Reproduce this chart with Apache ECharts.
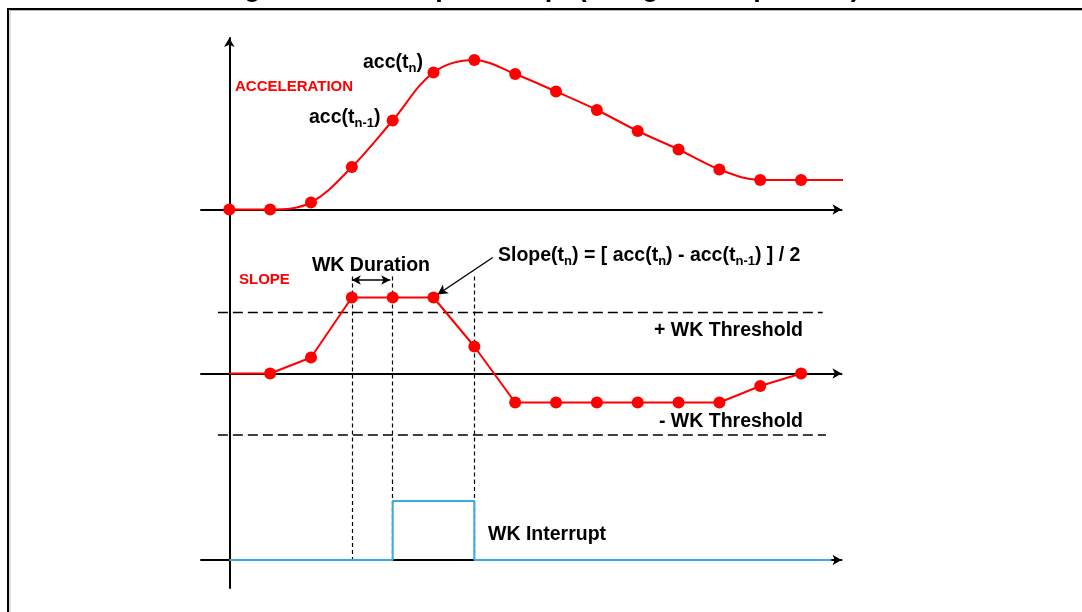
<!DOCTYPE html>
<html><head><meta charset="utf-8">
<script src="https://cdn.jsdelivr.net/npm/echarts@6/dist/echarts.min.js"></script>
<style>html,body{margin:0;padding:0;background:#fff}#c{width:1082px;height:612px}</style>
</head><body><div id="c"></div>
<script>
// ---- data ----
const sampleIndex = [0, 1, 2, 3, 4, 5, 6, 7, 8, 9, 10, 11, 12, 13, 14];
const accelerationValues = [0, 0, 7, 42.5, 89, 137, 149.5, 135.5, 118, 99.5, 78.5, 60, 40, 29.5, 29.5];
const accelerationTail = [15.07, 29.5];          // signal continues past the last sample
const slopeValues = [0, 0, 16, 76, 76, 76, 27, -29, -29, -29, -29, -29, -29, -12.5, 0];
const slopeMarkerFrom = 1;                        // first sample has no marker
const wkThresholds = [61, -61.5];
const thresholdSpans = [[-0.28, 14.53], [-0.28, 14.61]];
const interruptX = [0, 4, 6, 14.74];
const interruptLevel = [0, 1, 0, 0];
const guideIndex = [3, 4, 6];
const wkDurationSpan = [3.0, 3.94];
const wkDurationLevel = 93.5;
const slopePointer = [[6.45, 116], [5.1, 79]];

// ---- layout ----
const FONT = '"Liberation Sans", Arial, Helvetica, sans-serif';
const XMIN = -0.693, XMAX = 14.99;
const GL = 201, GW = 640.5;
const RED = '#ff0000', BLUE = '#38ace2';

function xAxisFor(idx, showLine) {
  return {
    type: 'value', gridIndex: idx, min: XMIN, max: XMAX,
    axisLine: { show: showLine, onZero: true, symbol: ['none', 'arrow'], symbolSize: [8, 9],
      lineStyle: { color: '#000', width: 2 } },
    axisTick: { show: false }, axisLabel: { show: false }, splitLine: { show: false }
  };
}
function yAxisFor(idx, min, max) {
  return { type: 'value', gridIndex: idx, min: min, max: max, show: false,
    axisLine: { show: false }, splitLine: { show: false } };
}

const accData = sampleIndex.map((x, i) => [x, accelerationValues[i]]);
accData.push({ value: accelerationTail, symbol: 'none' });
const slopeData = sampleIndex.map((x, i) => i < slopeMarkerFrom
  ? { value: [x, slopeValues[i]], symbol: 'none' } : [x, slopeValues[i]]);
const interruptData = interruptX.map((x, i) => [x, interruptLevel[i]]);

const guideStyle = { type: [4, 3], color: '#000', width: 1.2 };
const guidesSlope = guideIndex.map(g => [{ coord: [g, 97] }, { coord: [g, -106.5] }]);
const guidesInt = guideIndex.map(g => [{ coord: [g, 1.356] }, { coord: [g, -0.034] }]);

const subRich = {
  m: { fontSize: 19.5, fontWeight: 'bold', fontFamily: FONT, fill: '#000', lineHeight: 24 },
  s: { fontSize: 13, fontWeight: 'bold', fontFamily: FONT, fill: '#000', lineHeight: 13, verticalAlign: 'bottom' }
};
function rtext(x, y, text, align) {
  return { type: 'text', x: x, y: y, z: 100,
    style: { text: text, align: align || 'left', verticalAlign: 'middle', rich: subRich } };
}
function ptext(x, y, text, size, color, align) {
  return { type: 'text', x: x, y: y, z: 100,
    style: { text: text, align: align || 'left', verticalAlign: 'middle', fontSize: size,
      fontWeight: 'bold', fontFamily: FONT, fill: color } };
}

const chart = echarts.init(document.getElementById('c'), null, { renderer: 'canvas' });
chart.setOption({
  backgroundColor: '#ffffff',
  animation: false,
  grid: [
    { left: GL, width: GW, top: 40, height: 190 },
    { left: GL, width: GW, top: 240, height: 240 },
    { left: GL, width: GW, top: 480, height: 110 },
    { left: 229.3, width: 600, top: 38, height: 550 }
  ],
  xAxis: [xAxisFor(0, true), xAxisFor(1, true), xAxisFor(2, true),
    { type: 'value', gridIndex: 3, min: 0, max: 1, show: false }],
  yAxis: [yAxisFor(0, -20.5, 169.5), yAxisFor(1, -106.5, 133.5), yAxisFor(2, -0.5085, 1.356),
    { type: 'value', gridIndex: 3, min: 0, max: 1, position: 'left',
      axisLine: { show: true, onZero: false, symbol: ['none', 'arrow'], symbolSize: [8, 9],
        lineStyle: { color: '#000', width: 2 } },
      axisTick: { show: false }, axisLabel: { show: false }, splitLine: { show: false } }],
  series: [
    { type: 'line', name: 'acceleration', xAxisIndex: 0, yAxisIndex: 0, data: accData,
      smooth: 0.35, clip: false, symbol: 'circle', symbolSize: 12, showAllSymbol: true, z: 5,
      itemStyle: { color: RED }, lineStyle: { color: RED, width: 2 } },
    { type: 'line', name: 'slope', xAxisIndex: 1, yAxisIndex: 1, data: slopeData,
      symbol: 'circle', symbolSize: 12, showAllSymbol: true, z: 5,
      itemStyle: { color: RED }, lineStyle: { color: RED, width: 2 } },
    { type: 'line', name: '+th', xAxisIndex: 1, yAxisIndex: 1, symbol: 'none', z: 3,
      data: thresholdSpans[0].map(x => [x, wkThresholds[0]]),
      lineStyle: { color: '#000', width: 1.3, type: [10, 5] },
      markLine: { silent: true, symbol: 'none', label: { show: false }, lineStyle: guideStyle,
        data: guidesSlope.concat([
          [{ coord: [wkDurationSpan[0], wkDurationLevel], symbol: 'arrow', symbolSize: [7, 9] },
           { coord: [wkDurationSpan[1], wkDurationLevel], symbol: 'arrow', symbolSize: [7, 9],
             lineStyle: { type: 'solid', width: 1.5 } }],
          [{ coord: slopePointer[0], symbol: 'none' },
           { coord: slopePointer[1], symbol: 'arrow', symbolSize: [8, 10],
             lineStyle: { type: 'solid', width: 1.4 } }]
        ]) } },
    { type: 'line', name: '-th', xAxisIndex: 1, yAxisIndex: 1, symbol: 'none', z: 3,
      data: thresholdSpans[1].map(x => [x, wkThresholds[1]]),
      lineStyle: { color: '#000', width: 1.3, type: [10, 5] } },
    { type: 'line', name: 'interrupt', xAxisIndex: 2, yAxisIndex: 2, data: interruptData,
      step: 'end', symbol: 'none', z: 5, clip: false,
      lineStyle: { color: BLUE, width: 2 },
      markLine: { silent: true, symbol: 'none', label: { show: false }, lineStyle: guideStyle,
        data: guidesInt } }
  ],
  graphic: { elements: [
    { type: 'rect', z: 1, shape: { x: 8, y: 9, width: 1200, height: 800 },
      style: { fill: 'none', stroke: '#000', lineWidth: 2 } },
    { type: 'rect', z: 1, shape: { x: 10, y: 10.5, width: 1200, height: 800 },
      style: { fill: 'none', stroke: '#bbb', lineWidth: 1 } },
    ptext(540, -11, 'Figure 1. Wake-up interrupt (using the slope filter)', 27, '#000', 'center'),
    ptext(235, 87, 'ACCELERATION', 15, RED),
    ptext(239, 280, 'SLOPE', 15, RED),
    rtext(363, 63, '{m|acc(t}{s|n}{m|)}'),
    rtext(309, 118, '{m|acc(t}{s|n-1}{m|)}'),
    ptext(371, 266, 'WK Duration', 19.5, '#000', 'center'),
    rtext(498, 256, '{m|Slope(t}{s|n}{m|) = [ acc(t}{s|n}{m|) - acc(t}{s|n-1}{m|) ] / 2}'),
    ptext(803, 331, '+ WK Threshold', 19.5, '#000', 'right'),
    ptext(803, 422, '- WK Threshold', 19.5, '#000', 'right'),
    ptext(488, 535, 'WK Interrupt', 19.5, '#000', 'left')
  ] }
});
</script></body></html>
